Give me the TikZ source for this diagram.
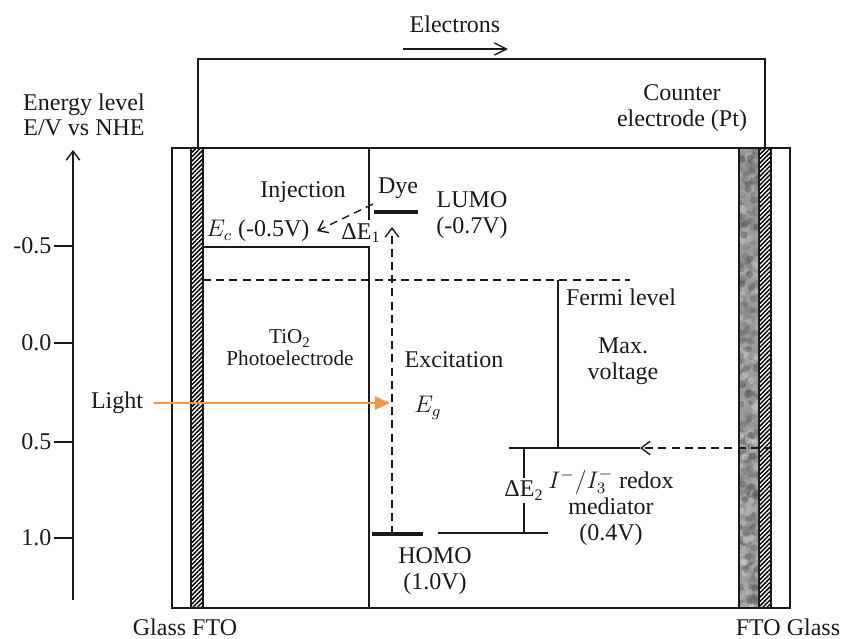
\documentclass[tikz,border=0pt]{standalone}
\usepackage{fontspec}
\setmainfont{Liberation Serif}
\usepackage{xcolor}
\definecolor{ink}{HTML}{1A1A1A}
\definecolor{sunlight}{HTML}{F79646}
\usepackage{tikz}
\usetikzlibrary{positioning,arrows.meta,patterns.meta,calc}
\tikzset{
  >={Straight Barb[length=4.5pt,width=6.8pt]},
  wire/.style={draw=ink,line width=0.7pt},
  dwire/.style={wire,dash pattern=on 4pt off 2.6pt},
  lvl/.style={draw=ink,line width=2.2pt},
  hatch/.style={pattern={Lines[angle=45,distance=1.55pt,line width=0.75pt]},draw=ink,line width=0.6pt},
  lightarr/.style={draw=sunlight,line width=1.1pt,-{Triangle[length=7.5pt,width=6.5pt]}},
  lbl/.style={font=\fontsize{12}{12.8}\selectfont,text=ink,inner sep=1pt,align=center},
  slbl/.style={lbl,font=\fontsize{10.6}{11}\selectfont},
  cover/.style={lbl,fill=white,inner sep=1.5pt},
}

\begin{document}
\begin{tikzpicture}[x=0.5pt,y=-0.5pt]
  \useasboundingbox (0,0) rectangle (841,638);
  % energy axis
  \coordinate (ax0) at (73,600);
  \coordinate (ax1) at (73,150);
  \draw[wire,->] (ax0) -- (ax1);
  \node[lbl] (axt) at (84,115) {Energy level\\E/V vs NHE};
  \foreach \v/\yy in {-0.5/246,0.0/343,0.5/442,1.0/538}{
    \coordinate (tk\yy) at (73,\yy);
    \draw[wire] (tk\yy) -- ++(-19,0) node[lbl,left] (tl\yy) {\v};
  }
  % cell
  \draw[wire] (172,148) rectangle (790,608);
  \draw[hatch] (191,148) rectangle (203,608);
  \begin{scope}
    \clip (739,148) rectangle (759,608);
    \fill[black!40] (739,148) rectangle (759,608);
    \pgfmathsetseed{17}
    \foreach \i in {1,...,520}{
      \pgfmathsetmacro{\px}{739+20*rnd}
      \pgfmathsetmacro{\py}{148+460*rnd}
      \pgfmathsetmacro{\pg}{15+55*rnd}
      \fill[black!\pg,opacity=0.45] (\px,\py) circle (3.6);
    }
  \end{scope}
  \draw[wire] (739,148) rectangle (759,608);
  \draw[hatch] (759,148) rectangle (771,608);
  % external circuit
  \coordinate (wa) at (198,148);
  \coordinate (wb) at (765,148);
  \draw[wire] (wa) -- (198,59) -- (765,59) -- (wb);
  \coordinate (ea) at (403,49);
  \coordinate (eb) at (508,49);
  \draw[wire,-{Straight Barb[length=6pt,width=6pt]}] (ea) -- (eb);
  \node[lbl] (elec) at (455,24) {Electrons};
  \node[lbl] (cntr) at (682,108) {Counter\\electrode (Pt)};
  % TiO2 photoelectrode
  \draw[wire] (203,247) -- (369,247);
  \draw[wire] (369,148) -- (369,608);
  \node[slbl] (tio) at (290,348) {TiO\textsubscript{2}\\Photoelectrode};
  \node[lbl,anchor=west] (ec) at (204,231) {$E_c$ (-0.5V)};
  \node[cover] (de1) at (361,233) {ΔE\textsubscript{1}};
  \node[lbl] (inj) at (303,192) {Injection};
  % dye levels
  \coordinate (lumoA) at (374,212);
  \coordinate (lumoB) at (418,212);
  \coordinate (homoA) at (372,534);
  \coordinate (homoB) at (423,534);
  \draw[lvl] (lumoA) -- (lumoB);
  \draw[lvl] (homoA) -- (homoB);
  \node[lbl] (dye) at (398,188) {Dye};
  \node[lbl] (lumo) at (472,215) {LUMO\\(-0.7V)};
  \node[lbl] (homo) at (435,571) {HOMO\\(1.0V)};
  \coordinate (exA) at (392,534);
  \coordinate (exB) at (392,227);
  \draw[dwire,->] (exA) -- (exB);
  \coordinate (inA) at (373,204);
  \coordinate (inB) at (317,231);
  \draw[dwire,->] (inA) -- (inB);
  \node[lbl] (exc) at (454,360) {Excitation};
  \node[lbl] (eg) at (428,408) {$E_g$};
  % light
  \node[lbl] (light) at (117,403) {Light};
  \coordinate (lgt) at (390,403);
  \draw[lightarr] ([xshift=4.5pt]light.east) -- (lgt);
  % fermi level and redox
  \coordinate (fA) at (203,280);
  \coordinate (fB) at (630,280);
  \draw[dwire] (fA) -- (fB);
  \coordinate (mvA) at (558,280);
  \coordinate (mvB) at (558,448);
  \draw[wire] (mvA) -- (mvB);
  \node[lbl] (ferm) at (621,297) {Fermi level};
  \node[lbl] (maxv) at (623,361) {Max.\\voltage};
  \coordinate (rxA) at (509,448);
  \coordinate (rxB) at (640,448);
  \draw[wire] (rxA) -- (rxB);
  \coordinate (ceA) at (772,448);
  \draw[dwire,->] (ceA) -- (rxB);
  \coordinate (hbA) at (438,533);
  \coordinate (hbB) at (548,533);
  \draw[wire] (hbA) -- (hbB);
  \draw[wire] (524,448) -- node[cover] (de2) {ΔE\textsubscript{2}} (524,533);
  \node[lbl,font=\fontsize{12}{13}\selectfont] (redox) at (611,507) {$I^-/I_3^-$ redox\\mediator\\(0.4V)};
  % bottom labels
  \node[lbl] (gfto) at (185,627) {Glass FTO};
  \node[lbl] (ftog) at (788,627) {FTO Glass};
\end{tikzpicture}
\end{document}
